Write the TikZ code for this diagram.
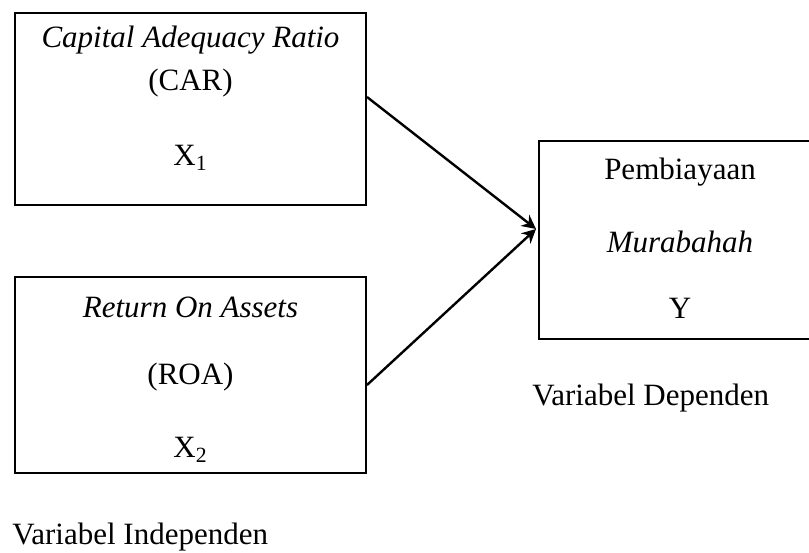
\documentclass[tikz,border=0pt]{standalone}
\usepackage{fontspec}
\setmainfont{Liberation Serif}
\usetikzlibrary{positioning, arrows, arrows.meta, shapes, calc}
\tikzstyle{varbox} = [rectangle, draw=black, line width=1pt, inner sep=0pt]
\tikzstyle{label} = [font=\fontsize{15.5}{18}\selectfont, inner sep=0pt]
\tikzstyle{arrow} = [line width=1.2pt,-{Stealth[length=7pt,width=7pt]}]

\begin{document}
\begin{tikzpicture}[x=0.5pt, y=-0.5pt]
        \useasboundingbox (0,0) rectangle (809,552);
        \node (carbox) [varbox, minimum width=175.5pt, minimum height=96pt] at (190.5,109) {};
        \node (roabox) [varbox, minimum width=175.5pt, minimum height=98pt] at (190.5,375) {};
        \node (murbox) [varbox, minimum width=141pt, minimum height=99pt] at (680,240) {};

        \node (carname) [label] at (190.5,40) {\textit{Capital Adequacy Ratio}};
        \node (carabbr) [label] at (190.5,83) {(CAR)};
        \node (carvar) [label] at (190.5,158) {X\textsubscript{1}};
        \node (roaname) [label] at (190.5,307) {\textit{Return On Assets}};
        \node (roaabbr) [label] at (190.5,377) {(ROA)};
        \node (roavar) [label] at (190.5,450) {X\textsubscript{2}};
        \node (murname) [label] at (680,172) {Pembiayaan};
        \node (murabbr) [label] at (680,242) {\textit{Murabahah}};
        \node (murvar) [label] at (680,308) {Y};

        \node (indep) [label, anchor=west] at (12,537) {Variabel Independen};
        \node (dep) [label, anchor=west] at (532,398) {Variabel Dependen};

        \coordinate (meet) at (536,229);
        \draw [arrow] ([yshift=6pt]carbox.east) -- (meet);
        \draw [arrow] ([yshift=-5pt]roabox.east) -- (meet);
\end{tikzpicture}
\end{document}
